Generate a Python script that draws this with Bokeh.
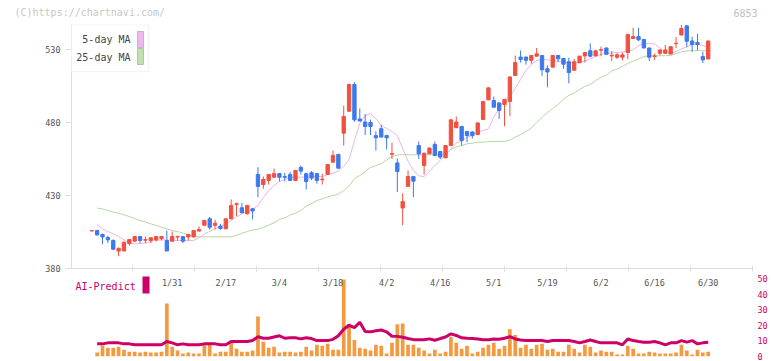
import numpy as np
from bokeh.plotting import figure
from bokeh.models import (ColumnDataSource, Range1d, FixedTicker, LinearAxis,
                          Label, BoxAnnotation, CustomJSTickFormatter)
from bokeh.layouts import column, row
from bokeh.embed import file_html
from bokeh.resources import INLINE
from bokeh.core.properties import value

NAN = float("nan")

# ---------------- data ----------------
opens = [405.7, 406.0, 403.3, 401.2, 399.2, 391.9, 392.0, 397.1, 398.7, 401.9,
         399.4, 399.2, 399.6, 400.5, 399.2, 398.7, 401.5, 401.9, 401.6, 401.6,
         405.6, 409.6, 414.0, 409.6, 409.0, 407.2, 414.0, 423.8, 421.6, 417.5,
         420.9, 444.4, 437.5, 440.3, 442.5, 445.0, 443.0, 444.4, 440.3, 449.2,
         444.9, 445.6, 445.0, 440.8, 444.4, 452.8, 458.1, 472.7, 487.7, 506.0,
         482.4, 480.3, 480.0, 471.0, 475.7, 471.1, 458.3, 452.3, 421.4, 436.2,
         443.0, 464.2, 450.5, 458.5, 465.0, 460.1, 455.8, 464.2, 476.4, 477.3,
         473.8, 473.5, 471.7, 482.1, 495.5, 495.1, 493.4, 492.3, 494.4, 512.2,
         524.8, 524.8, 522.6, 525.4, 525.9, 516.8, 517.9, 525.9, 523.8, 521.6,
         515.8, 520.9, 525.6, 529.1, 525.6, 529.5, 531.0, 525.6, 524.7, 524.7,
         527.9, 537.5, 538.8, 536.8, 531.0, 525.2, 527.4, 527.4, 526.9, 534.0,
         539.9, 546.2, 535.8, 534.8, 525.1, 523.5]
closes = [406.0, 403.0, 401.6, 399.6, 393.2, 393.9, 398.0, 399.9, 401.9, 399.2,
          399.8, 401.0, 401.9, 401.9, 392.0, 401.9, 402.0, 398.7, 403.3, 406.0,
          406.7, 412.9, 408.3, 411.0, 407.4, 414.0, 423.2, 424.3, 418.2, 423.2,
          419.4, 436.2, 441.0, 444.4, 445.0, 442.5, 442.5, 440.3, 447.1, 446.7,
          439.6, 441.9, 440.3, 441.2, 451.2, 457.4, 448.7, 484.1, 506.0, 481.8,
          481.0, 477.3, 477.3, 469.5, 470.0, 469.5, 458.7, 446.4, 425.9, 443.0,
          439.8, 458.5, 459.0, 462.5, 457.4, 456.3, 464.2, 481.8, 480.3, 467.7,
          471.1, 471.0, 479.7, 494.4, 503.7, 490.5, 488.2, 495.8, 511.2, 521.0,
          523.2, 522.6, 525.9, 527.0, 516.1, 514.6, 525.9, 523.6, 519.9, 514.2,
          521.6, 525.4, 527.9, 525.4, 529.1, 529.9, 526.7, 526.0, 526.3, 526.3,
          540.3, 538.8, 536.6, 531.0, 524.7, 525.6, 529.7, 529.7, 531.9, 534.3,
          544.4, 535.6, 533.4, 533.4, 522.9, 535.8]
highs = [406.2, 406.5, 404.0, 402.4, 400.0, 394.2, 398.3, 400.1, 402.1, 402.1,
         401.9, 401.2, 402.1, 402.1, 406.0, 405.3, 402.3, 402.1, 403.5, 406.2,
         408.8, 413.3, 415.3, 413.4, 410.6, 414.2, 427.3, 425.2, 425.0, 423.5,
         421.2, 449.4, 443.0, 444.6, 448.4, 445.3, 445.6, 446.2, 447.3, 450.5,
         445.6, 446.7, 445.5, 444.9, 451.4, 460.8, 458.6, 491.6, 506.5, 507.6,
         489.6, 485.9, 482.0, 474.0, 478.5, 471.5, 466.1, 455.3, 431.5, 447.1,
         443.3, 467.0, 459.2, 462.7, 467.0, 460.5, 464.4, 482.0, 484.1, 477.6,
         474.2, 474.0, 479.9, 494.6, 504.0, 497.8, 493.8, 496.0, 511.4, 525.9,
         529.3, 525.1, 526.1, 531.0, 526.2, 519.2, 526.1, 526.2, 524.1, 524.4,
         523.5, 525.6, 528.1, 534.1, 529.3, 532.0, 531.3, 528.9, 527.5, 527.9,
         540.5, 544.9, 544.9, 537.0, 531.3, 527.2, 529.9, 533.0, 532.1, 538.5,
         547.0, 546.4, 538.8, 540.6, 528.4, 536.0]
lows = [405.5, 402.6, 396.6, 397.4, 392.8, 388.4, 391.9, 395.6, 398.5, 397.4,
        397.4, 397.4, 398.5, 399.2, 391.9, 398.5, 399.0, 397.4, 399.2, 401.4,
        405.4, 409.4, 406.6, 406.7, 406.5, 407.0, 413.8, 415.8, 417.9, 416.9,
        413.6, 428.8, 434.6, 437.5, 442.3, 439.6, 439.6, 440.1, 440.1, 444.4,
        434.1, 440.5, 438.0, 437.5, 444.2, 452.6, 448.5, 464.2, 487.5, 480.5,
        480.8, 471.4, 471.4, 460.8, 469.8, 461.5, 455.0, 432.3, 409.7, 436.0,
        428.8, 455.0, 444.4, 458.3, 457.2, 455.0, 455.6, 464.0, 476.2, 464.2,
        466.5, 469.0, 471.5, 481.9, 495.3, 490.3, 482.5, 477.5, 484.4, 512.0,
        521.0, 519.6, 520.3, 525.2, 511.9, 504.1, 517.7, 521.3, 516.8, 506.8,
        515.6, 520.7, 521.0, 524.5, 525.4, 525.4, 526.5, 522.0, 523.5, 522.5,
        523.5, 537.3, 535.8, 530.8, 522.0, 522.8, 526.0, 527.2, 526.7, 531.0,
        539.7, 531.7, 528.4, 529.3, 520.7, 523.3]
ma5 = [NAN, 410.0, 407.2, 405.3, 403.7, 401.9, 399.6, 397.4, 396.9, 397.0,
       397.4, 398.5, 399.2, 399.6, 399.5, 399.4, 399.2, 399.2, 399.2, 399.2,
       401.0, 403.7, 405.5, 407.2, 408.8, 410.6, 412.9, 415.2, 417.5, 419.0,
       420.2, 423.2, 428.6, 433.4, 436.8, 439.6, 441.0, 442.3, 442.5, 442.5,
       442.7, 442.7, 443.0, 443.0, 444.2, 445.4, 446.8, 449.9, 454.7, 467.7,
       479.3, 484.8, 486.0, 482.7, 477.9, 475.9, 473.8, 471.1, 462.0, 453.5,
       447.3, 443.4, 443.0, 446.5, 450.5, 454.0, 457.7, 461.9, 466.0, 467.3,
       470.0, 471.1, 473.5, 474.5, 475.7, 483.7, 489.4, 495.8, 497.8, 503.3,
       509.5, 515.6, 519.7, 522.5, 523.2, 522.8, 522.5, 521.8, 521.4, 521.1,
       520.9, 521.4, 522.1, 523.5, 525.2, 526.6, 527.3, 527.6, 527.9, 528.3,
       528.6, 530.0, 532.4, 533.8, 534.1, 533.8, 531.0, 528.3, 527.3, 528.6,
       530.4, 531.7, 533.4, 533.8, 532.7, 531.7]
ma25 = [NAN, 421.4, 420.8, 419.7, 418.6, 417.8, 416.8, 415.6, 414.2, 412.9,
        411.8, 410.6, 409.5, 408.2, 407.1, 406.0, 405.3, 404.3, 403.3, 401.9,
        401.8, 401.7, 401.7, 401.7, 401.7, 401.7, 401.7, 402.8, 404.1, 405.3,
        406.4, 406.8, 408.1, 409.8, 411.2, 413.6, 414.6, 416.6, 418.0, 419.7,
        422.8, 424.5, 426.6, 427.7, 429.0, 430.0, 431.0, 433.4, 436.5, 441.6,
        443.7, 446.4, 449.2, 450.5, 451.9, 454.3, 456.7, 457.7, 458.1, 457.9,
        457.9, 457.9, 457.9, 457.9, 457.9, 457.9, 458.4, 461.5, 463.2, 464.2,
        465.4, 465.8, 466.5, 466.5, 466.8, 467.0, 467.1, 467.0, 468.0, 469.9,
        471.8, 473.8, 476.2, 480.0, 483.4, 486.8, 489.6, 492.3, 496.1, 498.5,
        500.2, 502.6, 504.7, 506.0, 508.8, 510.8, 512.5, 515.3, 516.6, 518.4,
        520.4, 522.1, 523.5, 525.2, 525.6, 525.7, 525.7, 525.7, 525.9, 527.3,
        528.3, 529.0, 529.2, 529.2, 529.2, 529.2]
volume = [NAN, 2.5, 7.0, 5.6, 5.6, 6.3, 4.4, 3.1, 3.1, 2.5,
          3.1, 2.5, 2.5, 3.1, 34.0, 6.3, 3.8, 1.9, 2.5, 1.9,
          1.9, 7.5, 7.5, 1.9, 3.1, 3.1, 8.8, 5.0, 3.1, 3.1,
          3.8, 25.6, 9.4, 5.6, 6.3, 2.5, 3.1, 3.1, 2.5, 3.1,
          6.3, 3.8, 7.5, 6.9, 8.1, 4.4, 4.4, 49.4, 21.0, 10.6,
          5.6, 5.0, 3.8, 7.5, 6.9, 1.9, 8.8, 20.6, 21.2, 7.5,
          7.5, 5.6, 3.8, 1.9, 4.4, 1.9, 3.1, 12.5, 8.8, 5.0,
          6.9, 1.9, 3.1, 5.6, 7.5, 8.8, 5.0, 6.9, 17.5, 13.8,
          5.6, 7.5, 5.0, 7.5, 8.1, 4.4, 5.0, 3.1, 3.1, 7.5,
          5.0, 2.5, 7.5, 6.3, 2.5, 3.8, 3.1, 3.1, 1.3, 1.3,
          6.9, 5.0, 1.9, 1.9, 3.1, 2.5, 1.9, 1.9, 1.9, 2.5,
          7.5, 3.8, 1.3, 4.4, 2.5, 3.1]
ai_predict = [NAN, 8.1, 8.1, 8.75, 8.75, 8.75, 8.1, 8.1, 7.5, 7.5,
              7.5, 7.5, 7.5, 7.5, 9.6, 8.75, 7.5, 8.1, 7.5, 7.5,
              7.5, 8.1, 8.1, 8.1, 7.5, 7.5, 9.6, 9.6, 9.6, 9.6,
              10.2, 12.7, 11.7, 11.7, 12.5, 13.3, 11.7, 12.0, 12.0, 11.3,
              12.0, 11.5, 10.2, 10.2, 10.2, 11.0, 13.3, 17.5, 20.0, 18.5,
              22.0, 16.0, 15.8, 16.5, 17.0, 15.8, 13.0, 12.9, 12.3, 11.5,
              10.8, 10.8, 10.8, 11.3, 10.4, 11.5, 12.5, 14.5, 13.5, 12.0,
              11.7, 11.5, 11.25, 10.8, 10.8, 11.25, 11.0, 11.7, 12.7, 11.25,
              10.6, 10.2, 10.2, 10.2, 10.2, 9.6, 10.2, 10.2, 10.2, 10.2,
              9.6, 8.75, 9.6, 10.6, 9.6, 8.75, 8.75, 8.75, 8.75, 7.5,
              11.25, 10.2, 9.6, 9.2, 9.2, 9.6, 8.75, 7.5, 8.75, 8.75,
              10.2, 9.2, 10.2, 8.1, 8.75, 9.2]
tick_labels = ["1/31", "2/17", "3/4", "3/18", "4/2", "4/16", "5/1",
               "5/19", "6/2", "6/16", "6/30"]
tick_index = [15, 25, 35, 45, 55, 65, 75, 85, 95, 105, 115]
price_ticks = [380, 430, 480, 530]
vol_ticks = [0, 10, 20, 30, 40, 50]

# ---------------- styling / layout ----------------
FONT = "DejaVu Sans Mono"
UP, DOWN = "#f2503f", "#3d78ee"
W = 772
BL, BR = 71, 20
FRAME_W = W - BL - BR          # 681
SLOT = 5.36                    # px per trading day
X0 = -(91.3 - 71) / SLOT        # index at left frame edge
x_range = Range1d(X0, X0 + FRAME_W / SLOT)

n = len(opens)
idx = list(range(n))
colors = [UP if c >= o else DOWN for o, c in zip(opens, closes)]
src = ColumnDataSource(dict(
    x=idx, open=opens, close=closes, high=highs, low=lows,
    top=[max(o, c) for o, c in zip(opens, closes)],
    bottom=[min(o, c) for o, c in zip(opens, closes)],
    color=colors, ma5=ma5, ma25=ma25, vol=volume, ai=ai_predict))


def canvas_box(fig, l, r, t, b, **kw):
    fig.add_layout(BoxAnnotation(left=l, right=r, top=t, bottom=b,
                                 left_units="canvas", right_units="canvas",
                                 top_units="canvas", bottom_units="canvas",
                                 fill_alpha=1, **kw))


def canvas_label(fig, x, y, text, **kw):
    fig.add_layout(Label(x=x, y=y, x_units="canvas", y_units="canvas",
                         text=text, text_font=FONT, text_baseline="middle",
                         **kw))


# ---------- header (watermark) ----------
HH = 20
ph = figure(width=W, height=HH, x_range=Range1d(0, 1), y_range=Range1d(0, 1),
            output_backend="svg", toolbar_location=None,
            x_axis_location=None, y_axis_location=None, min_border=0,
            min_border_left=0, min_border_right=0, min_border_top=0,
            min_border_bottom=0)
ph.outline_line_color = None
ph.grid.visible = False
canvas_label(ph, 14, 12, "(C)https://chartnavi.com/", text_font_size="10px",
             text_color="#c8c8c8", text_align="left")
canvas_label(ph, 757, 12, "6853", text_font_size="10px",
             text_color="#c0c0c0", text_align="right")

# ---------- main price figure ----------
HA = 254
pa = figure(width=W, height=HA, x_range=x_range, y_range=Range1d(380, 547.1),
            output_backend="svg", toolbar_location=None,
            min_border_left=BL, min_border_right=BR, min_border_top=4,
            min_border_bottom=6)
pa.outline_line_color = None
pa.grid.visible = False

pa.line("x", "ma25", source=src, color="#b2d9a2", line_width=1)
pa.line("x", "ma5", source=src, color="#e8b4e8", line_width=1)
pa.segment(x0="x", y0="low", x1="x", y1="high", source=src, color="color",
           line_width=1)
pa.vbar(x="x", width=0.62, top="top", bottom="bottom", source=src,
        fill_color="color", line_color="color", line_width=1)

ya = pa.yaxis[0]
ya.ticker = FixedTicker(ticks=price_ticks)
ya.axis_line_color = "#dddddd"
ya.major_tick_line_color = "#dddddd"
ya.major_tick_in = 0
ya.major_tick_out = 6
ya.minor_tick_line_color = None
ya.major_label_text_font = FONT
ya.major_label_text_font_size = "8.5px"
ya.major_label_text_color = "#555555"
ya.major_label_standoff = 5

grid_ticks = [X0 + (61 + 62 * k) / SLOT for k in range(11)]
xa = pa.xaxis[0]
xa.ticker = FixedTicker(ticks=grid_ticks)
xa.formatter = CustomJSTickFormatter(code="return ''")
xa.axis_line_color = "#dddddd"
xa.major_tick_line_color = "#dddddd"
xa.major_tick_in = 3
xa.major_tick_out = 3
xa.minor_tick_line_color = None
xa.major_label_text_font_size = "1px"
xa.major_label_standoff = 0

# legend box (canvas px of this figure; its top is at page y 20)
canvas_box(pa, 70, 148, 4, 51, fill_color="white", line_color="#dddddd",
           line_width=1.5)
canvas_label(pa, 130, 19, "5-day MA", text_font_size="10px",
             text_color="#444444", text_align="right")
canvas_label(pa, 130, 37, "25-day MA", text_font_size="10px",
             text_color="#444444", text_align="right")
canvas_box(pa, 137, 143, 11, 27, fill_color="#eeb8ee", line_color="#555555",
           line_width=1)
canvas_box(pa, 137, 143, 28, 44, fill_color="#bfe2b0", line_color="#555555",
           line_width=1)

# ---------- volume / AI figure ----------
HB = 87
VTOP = 52.56
pb = figure(width=W, height=HB, x_range=x_range, y_range=Range1d(0, VTOP),
            output_backend="svg", toolbar_location=None,
            x_axis_location=None, y_axis_location=None,
            min_border_left=BL, min_border_right=BR, min_border_top=0,
            min_border_bottom=5)
pb.outline_line_color = None
pb.grid.visible = False

pb.vbar(x="x", width=0.69, top="vol", bottom=0, source=src,
        fill_color="#f39a40", line_color=None)
pb.line("x", "ai", source=src, color="#cc0066", line_width=3)

ra = LinearAxis(ticker=FixedTicker(ticks=vol_ticks))
ra.axis_line_color = None
ra.major_tick_line_color = None
ra.minor_tick_line_color = None
ra.major_tick_in = 0
ra.major_tick_out = 0
ra.major_label_standoff = 5
ra.major_label_text_font = FONT
ra.major_label_text_font_size = "8.5px"
ra.major_label_text_color = "#cc0066"
pb.add_layout(ra, "right")

date_y = VTOP - 8 / (82 / VTOP)
pb.text(x=tick_index, y=[date_y] * len(tick_index), text=tick_labels,
        text_font=value(FONT), text_font_size="8.5px", text_color="#555555",
        text_align="center", text_baseline="middle")

# AI-Predict key (canvas px of this figure; its top is at page y 274)
canvas_label(pb, 75, 12, "AI-Predict", text_font_size="10px",
             text_color="#cc0066", text_align="left")
canvas_box(pb, 142, 149, 2, 19, fill_color="#cc0066", line_color=None)

layout = column(row(ph, spacing=0), pa, pb, spacing=0)
open("out.html", "w").write(file_html(layout, INLINE))
